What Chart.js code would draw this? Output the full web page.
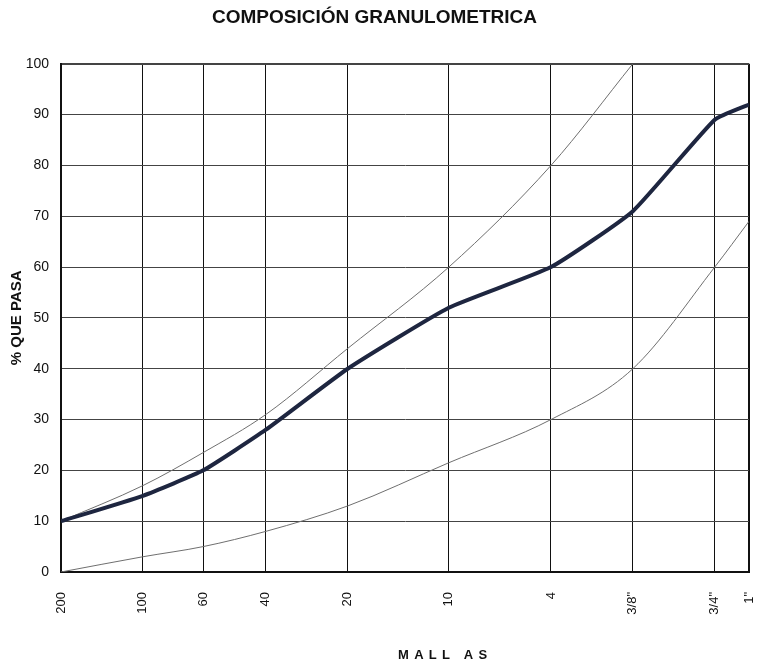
<!DOCTYPE html>
<html>
<head>
<meta charset="utf-8">
<script src="https://cdn.jsdelivr.net/npm/chart.js@4.4.4/dist/chart.umd.min.js"></script>
<style>
  html, body { margin: 0; padding: 0; background: #fff; }
  #wrap { width: 774px; height: 666px; position: relative; }
</style>
</head>
<body>
<div id="wrap"><canvas id="chart-gran"></canvas></div>
<script>
// ─── Data ────────────────────────────────────────────────────────────────────
// sieve labels and their openings in mm (x axis is log of the opening)
const SIEVES    = ['200', '100', '60', '40', '20', '10', '4', '3/8"', '3/4"', '1"'];
const OPENINGS  = [0.075, 0.15, 0.25, 0.425, 0.85, 2.0, 4.75, 9.5, 19.0, 25.4];

// % que pasa
const MUESTRA   = [10, 15, 20, 28, 40, 52, 60, 71, 89, 92];
const LIM_SUP   = [10, 17, 23.5, 31, 44, 60, 80, 100, null, null];
const LIM_INF   = [0, 3, 5, 8, 13, 21.5, 30, 40, 60, 69];

const Y_TICKS_STEP = 10;

// ─── Helpers ─────────────────────────────────────────────────────────────────
const toPoints = vals => OPENINGS.map((x, i) => ({ x, y: vals[i] }));

const FONT = "'Liberation Sans', Arial, sans-serif";

// "MALL AS" caption under the x axis, spaced like the original
const captionPlugin = {
  id: 'caption',
  afterDraw(chart) {
    const { ctx, chartArea } = chart;
    ctx.save();
    ctx.font = `bold 13px ${FONT}`;
    ctx.fillStyle = '#111';
    ctx.textBaseline = 'middle';
    const text = 'MALL AS';
    let x = chartArea.left + (chartArea.right - chartArea.left) * 0.49;
    for (const ch of text) {
      ctx.fillText(ch, x, 655);
      x += ctx.measureText(ch).width + 5.2;
    }
    ctx.restore();
  },
};

// ─── Chart ───────────────────────────────────────────────────────────────────
Chart.defaults.font.family = FONT;
Chart.defaults.color = '#111';
Chart.defaults.animation = false;

new Chart(document.getElementById('chart-gran').getContext('2d'), {
  type: 'line',
  data: {
    datasets: [
      {
        label: 'Muestra',
        data: toPoints(MUESTRA),
        borderColor: '#1e2640',
        borderWidth: 4,
        pointRadius: 0,
        tension: 0.15,
      },
      {
        label: 'Límite superior',
        data: toPoints(LIM_SUP),
        borderColor: '#6f6f6f',
        borderWidth: 1,
        pointRadius: 0,
        cubicInterpolationMode: 'monotone',
      },
      {
        label: 'Límite inferior',
        data: toPoints(LIM_INF),
        borderColor: '#6f6f6f',
        borderWidth: 1,
        pointRadius: 0,
        cubicInterpolationMode: 'monotone',
      },
    ],
  },
  options: {
    responsive: true,
    maintainAspectRatio: false,
    layout: { padding: { top: 0, right: 25, left: 0, bottom: 0 } },
    scales: {
      x: {
        type: 'logarithmic',
        min: OPENINGS[0],
        max: OPENINGS[OPENINGS.length - 1],
        afterBuildTicks: scale => {
          scale.ticks = OPENINGS.map(v => ({ value: v, major: false }));
        },
        afterFit: scale => {
          scale.height = 94;
          scale.paddingLeft = 0;
          scale.paddingRight = 0;
        },
        border: { display: true, color: '#111', width: 2 },
        grid: {
          color: '#111',
          lineWidth: c => (c.index === OPENINGS.length - 1 ? 2 : 1),
          drawTicks: false,
        },
        ticks: {
          autoSkip: false,
          minRotation: 90,
          maxRotation: 90,
          padding: 20,
          font: { size: 13 },
          callback: v => {
            const i = OPENINGS.indexOf(v);
            return i >= 0 ? SIEVES[i] : '';
          },
        },
      },
      y: {
        min: 0,
        max: 100,
        afterFit: scale => { scale.width = 61; },
        border: { display: true, color: '#111', width: 2 },
        grid: {
          color: '#444',
          lineWidth: c => (c.tick && c.tick.value === 100 ? 2 : 1),
          drawTicks: false,
        },
        ticks: {
          stepSize: Y_TICKS_STEP,
          padding: 12,
          font: { size: 14 },
        },
        title: {
          display: true,
          text: '% QUE PASA',
          font: { size: 15, weight: 'bold' },
          padding: { top: 8, bottom: 0 },
        },
      },
    },
    plugins: {
      legend: { display: false },
      tooltip: { enabled: false },
      title: {
        display: true,
        text: 'COMPOSICIÓN GRANULOMETRICA',
        font: { size: 19, weight: 'bold' },
        color: '#111',
        padding: { top: 6, bottom: 35 },
      },
    },
  },
  plugins: [captionPlugin],
});
</script>
</body>
</html>
